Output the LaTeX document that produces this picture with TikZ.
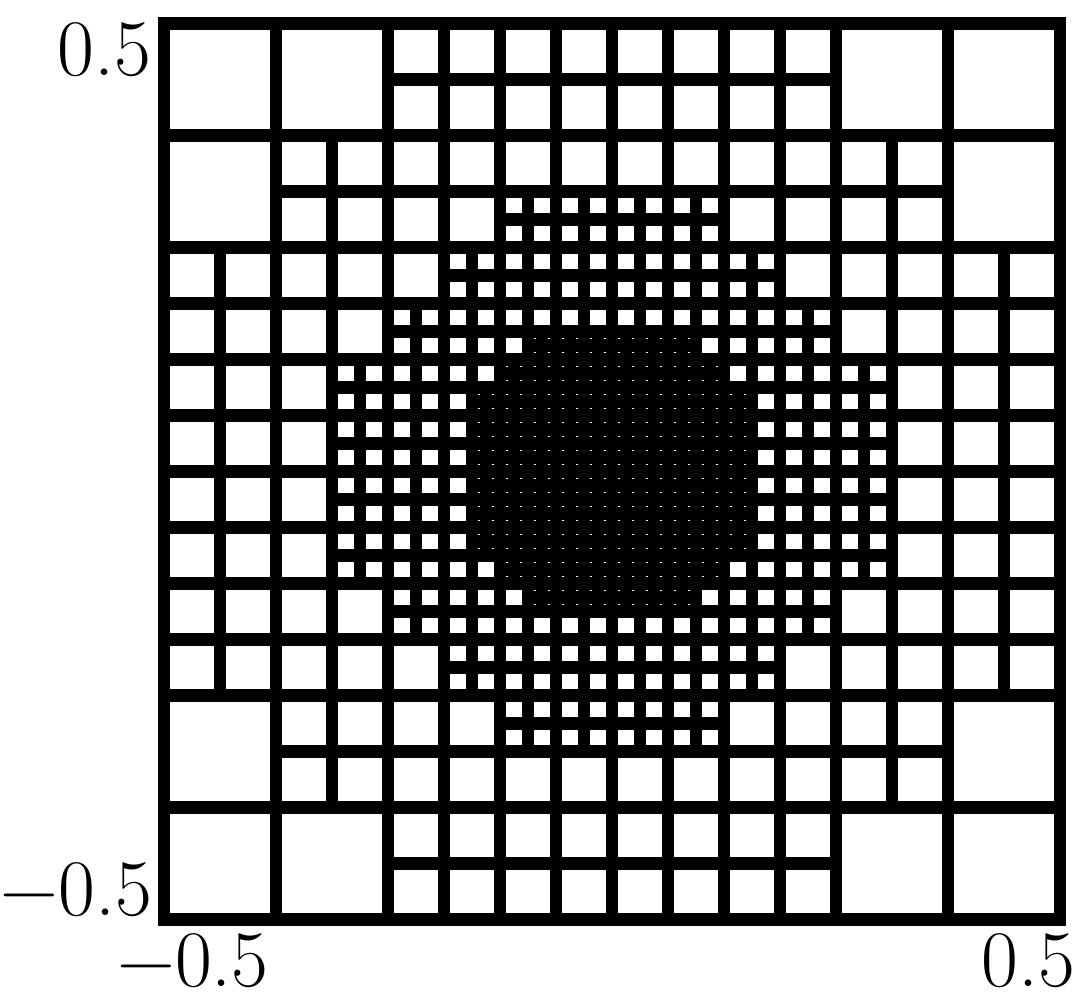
\documentclass[tikz,border=0pt]{standalone}
\begin{document}
\begin{tikzpicture}[x=22.4cm,y=22.4cm,
  meshline/.style={line width=0.322cm, black},
  lbl/.style={inner sep=0pt, font=\fontsize{57}{60}\selectfont}]
\useasboundingbox (-0.683036,-0.592076) rectangle (0.524554,0.526228);
% base 8x8 grid
\foreach \k in {1,...,7}{
  \draw[meshline] ({\k/8-0.5},-0.5) -- ({\k/8-0.5},0.5);
  \draw[meshline] (-0.5,{\k/8-0.5}) -- (0.5,{\k/8-0.5});
}
\draw[meshline] (-0.5,-0.5) rectangle (0.5,0.5);
% quadtree refinement: split cells of size 1/N whose centre lies near the origin
\foreach \N/\T in {8/64,16/94,32/118}{
  \pgfmathtruncatemacro{\M}{\N-1}
  \foreach \i in {0,...,\M}{
    \foreach \j in {0,...,\M}{
      \ifnum\numexpr (2*\i+1-\N)*(2*\i+1-\N)+(2*\j+1-\N)*(2*\j+1-\N)\relax<\T\relax
        \draw[meshline] ({\i/\N-0.5},{(\j+0.5)/\N-0.5}) -- ({(\i+1)/\N-0.5},{(\j+0.5)/\N-0.5});
        \draw[meshline] ({(\i+0.5)/\N-0.5},{\j/\N-0.5}) -- ({(\i+0.5)/\N-0.5},{(\j+1)/\N-0.5});
      \fi
    }
  }
}
% tick labels
\node[lbl, anchor=base east] (ytop) at (-0.5141,0.4420) {0.5};
\node[lbl, anchor=base east] (ybot) at (-0.5131,-0.4950) {−0.5};
\node[lbl, anchor=base east] (xleft) at (-0.3828,-0.5748) {−0.5};
\node[lbl, anchor=base east] (xright) at (0.5175,-0.5748) {0.5};
\end{tikzpicture}
\end{document}
